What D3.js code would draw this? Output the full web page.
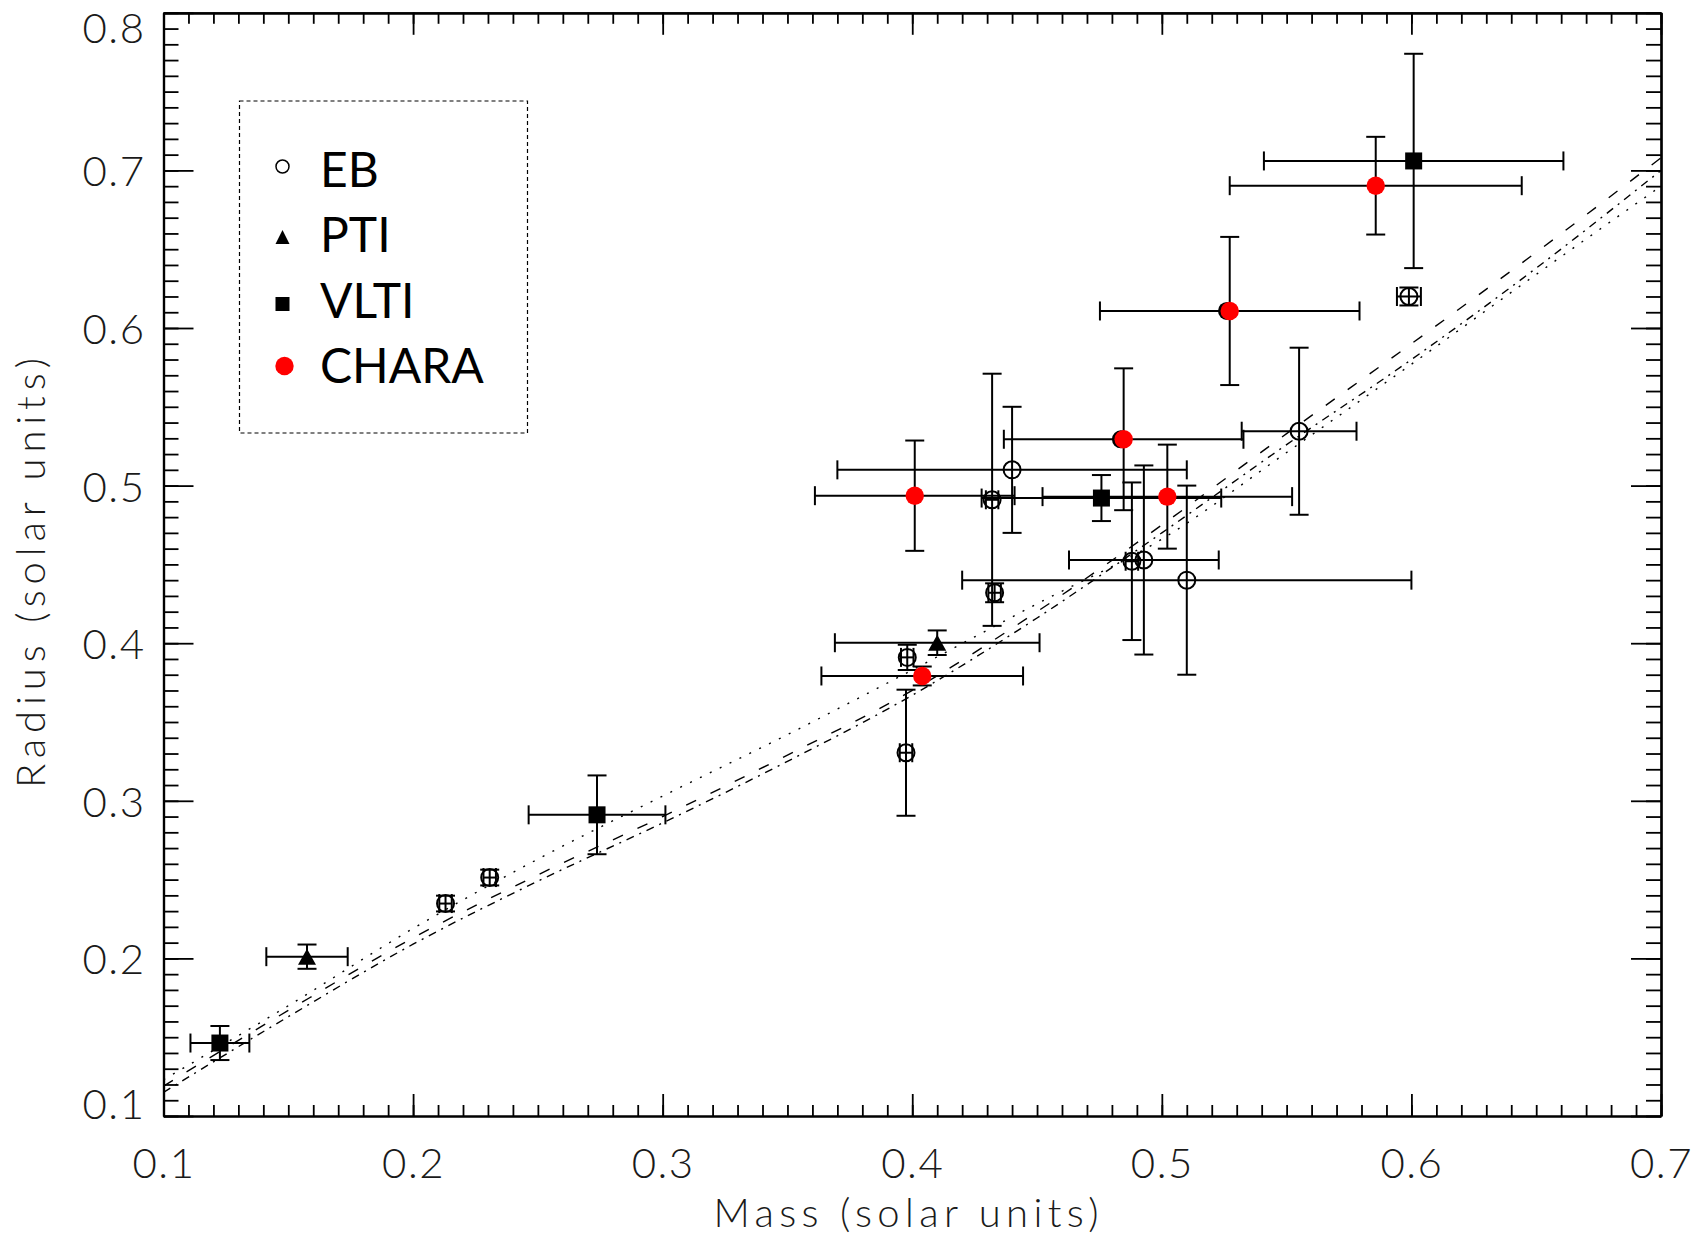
<!DOCTYPE html>
<html>
<head>
<meta charset="utf-8">
<script src="https://cdn.jsdelivr.net/npm/d3@7"></script>
<style>
  html, body { margin: 0; padding: 0; background: #fff; }
  svg { display: block; }
</style>
</head>
<body>
<svg id="chart" width="1699" height="1241"></svg>
<script>
// ---- Eclipsing binaries (open circles) ----
const ebMass      = [0.440, 0.432, 0.433, 0.398, 0.3975, 0.4928, 0.488, 0.510, 0.555, 0.599, 0.213, 0.2307];
const ebRadius    = [0.510, 0.491, 0.432, 0.391, 0.3305, 0.4528, 0.452, 0.440, 0.5345, 0.620, 0.2348, 0.2513];
const ebMassErr   = [0.070, 0.0025, 0.0025, 0.0025, 0.0025, 0.030, 0.0025, 0.090, 0.023, 0.0048, 0.0025, 0.0025];
const ebRadiusErr = [0.040, 0.080, 0.006, 0.008, 0.040, 0.060, 0.050, 0.060, 0.053, 0.0057, 0.005, 0.005];

// ---- PTI interferometry (filled triangles) ----
const ptiMass      = [0.410, 0.1575];
const ptiRadius    = [0.4003, 0.2011];
const ptiMassErr   = [0.041, 0.0163];
const ptiRadiusErr = [0.0078, 0.0077];

// ---- VLTI interferometry (filled squares) ----
const vltiMass      = [0.1226, 0.2737, 0.4758, 0.6009];
const vltiRadius    = [0.1463, 0.2911, 0.4921, 0.7060];
const vltiMassErr   = [0.0118, 0.0274, 0.048, 0.060];
const vltiRadiusErr = [0.0108, 0.025, 0.0146, 0.068];

// ---- CHARA interferometry (red dots) ----
const charaMass      = [0.401, 0.404, 0.4847, 0.5022, 0.5272, 0.5857];
const charaRadius    = [0.4936, 0.3792, 0.5294, 0.4930, 0.6108, 0.6903];
const charaMassErr   = [0.040, 0.0404, 0.048, 0.050, 0.052, 0.0585];
const charaRadiusErr = [0.035, 0.006, 0.045, 0.033, 0.047, 0.031];

// black points lying just under two of the CHARA dots
const underMass   = [0.4836, 0.5261];
const underRadius = [0.5294, 0.6108];

// ---- model mass-radius relations ----
const modelMass      = [0.10, 0.15, 0.20, 0.25, 0.30, 0.35, 0.40, 0.45, 0.50, 0.55, 0.60, 0.65, 0.70];
const modelDotted    = [0.123, 0.170, 0.219, 0.263, 0.303, 0.342, 0.383, 0.425, 0.466, 0.521, 0.577, 0.634, 0.690];
const modelDashed    = [0.119, 0.167, 0.213, 0.253, 0.290, 0.329, 0.370, 0.420, 0.475, 0.533, 0.590, 0.648, 0.708];
const modelDashDot   = [0.115, 0.163, 0.209, 0.249, 0.286, 0.325, 0.367, 0.416, 0.470, 0.526, 0.580, 0.638, 0.700];

// ---- axes and legend text ----
const xTickLabels = ["0.1", "0.2", "0.3", "0.4", "0.5", "0.6", "0.7"];
const yTickLabels = ["0.1", "0.2", "0.3", "0.4", "0.5", "0.6", "0.7", "0.8"];
const xTitle = "Mass (solar units)";
const yTitle = "Radius (solar units)";
const legendLabels = ["EB", "PTI", "VLTI", "CHARA"];

// ------------------------------------------------------------------
const svg = d3.select("#chart");
const tickFont = "Lato, Roboto, 'DejaVu Sans', sans-serif";
const legendFont = "Lato, 'Noto Sans', 'DejaVu Sans', sans-serif";

const x = d3.scaleLinear().domain([0.1, 0.7]).range([163.5, 1661]);
const y = d3.scaleLinear().domain([0.1, 0.8]).range([1116, 12.8]);
const [x0, x1] = x.range();
const [yb, yt] = y.range();

svg.append("rect").attr("width", 1699).attr("height", 1241).attr("fill", "#fff");

// clip for model curves
svg.append("clipPath").attr("id", "plot-clip")
  .append("rect").attr("x", x0).attr("y", yt).attr("width", x1 - x0).attr("height", yb - yt);

// ---- model curves ----
const line = d3.line().curve(d3.curveMonotoneX)
  .x(d => x(d[0])).y(d => y(d[1]));
const models = [
  { values: modelDotted,  dash: "2,9" },
  { values: modelDashed,  dash: "11,16" },
  { values: modelDashDot, dash: "8,6,2,6" }
];
const curveG = svg.append("g").attr("clip-path", "url(#plot-clip)");
models.forEach(m => {
  curveG.append("path")
    .datum(modelMass.map((mm, i) => [mm, m.values[i]]))
    .attr("d", line)
    .attr("fill", "none")
    .attr("stroke", "#000")
    .attr("stroke-width", 1.4)
    .attr("stroke-dasharray", m.dash);
});

// ---- helpers ----
function zip(ms, rs, dms, drs) {
  return ms.map((m, i) => ({ m, r: rs[i], dm: dms ? dms[i] : 0, dr: drs ? drs[i] : 0 }));
}
const eb = zip(ebMass, ebRadius, ebMassErr, ebRadiusErr);
const pti = zip(ptiMass, ptiRadius, ptiMassErr, ptiRadiusErr);
const vlti = zip(vltiMass, vltiRadius, vltiMassErr, vltiRadiusErr);
const chara = zip(charaMass, charaRadius, charaMassErr, charaRadiusErr);
const under = zip(underMass, underRadius);

const CAP = 9.5;
const errG = svg.append("g").attr("stroke", "#000").attr("stroke-width", 2).attr("fill", "none");
function errorBars(data) {
  data.forEach(d => {
    const cx = x(d.m), cy = y(d.r);
    const xl = x(d.m - d.dm), xr = x(d.m + d.dm);
    const yl = y(d.r - d.dr), yh = y(d.r + d.dr);
    errG.append("line").attr("x1", xl).attr("x2", xr).attr("y1", cy).attr("y2", cy);
    errG.append("line").attr("x1", xl).attr("x2", xl).attr("y1", cy - CAP).attr("y2", cy + CAP);
    errG.append("line").attr("x1", xr).attr("x2", xr).attr("y1", cy - CAP).attr("y2", cy + CAP);
    errG.append("line").attr("x1", cx).attr("x2", cx).attr("y1", yl).attr("y2", yh);
    errG.append("line").attr("x1", cx - CAP).attr("x2", cx + CAP).attr("y1", yl).attr("y2", yl);
    errG.append("line").attr("x1", cx - CAP).attr("x2", cx + CAP).attr("y1", yh).attr("y2", yh);
  });
}
errorBars(eb);
errorBars(pti);
errorBars(vlti);
errorBars(chara);

// ---- markers ----
const markG = svg.append("g");
markG.selectAll("circle.eb").data(eb).join("circle")
  .attr("class", "eb")
  .attr("cx", d => x(d.m)).attr("cy", d => y(d.r)).attr("r", 8.5)
  .attr("fill", "none").attr("stroke", "#000").attr("stroke-width", 2);

const tri = (s, h) => `M0,${-h / 2}L${s / 2},${h / 2}L${-s / 2},${h / 2}Z`;
markG.selectAll("path.pti").data(pti).join("path")
  .attr("class", "pti")
  .attr("transform", d => `translate(${x(d.m)},${y(d.r)})`)
  .attr("d", tri(18, 16)).attr("fill", "#000");

markG.selectAll("rect.vlti").data(vlti).join("rect")
  .attr("class", "vlti")
  .attr("x", d => x(d.m) - 8.5).attr("y", d => y(d.r) - 8.5)
  .attr("width", 17).attr("height", 17).attr("fill", "#000");

markG.selectAll("circle.under").data(under).join("circle")
  .attr("class", "under")
  .attr("cx", d => x(d.m)).attr("cy", d => y(d.r)).attr("r", 9)
  .attr("fill", "#000");

markG.selectAll("circle.chara").data(chara).join("circle")
  .attr("class", "chara")
  .attr("cx", d => x(d.m)).attr("cy", d => y(d.r)).attr("r", 9.2)
  .attr("fill", "#ff0000");

// ---- axes ----
const xMajor = xTickLabels.map(Number);
const yMajor = yTickLabels.map(Number);
const xMinor = d3.range(0, 61).map(i => +(0.1 + i * 0.01).toFixed(2));
const yMinor = d3.range(0, 71).map(i => +(0.1 + i * 0.01).toFixed(2));

function styleAxis(g) {
  g.select(".domain").attr("stroke", "#000").attr("stroke-width", 2.2);
  g.selectAll(".tick line").attr("stroke", "#000").attr("stroke-width", 1.8);
}

// bottom
const gBottom = svg.append("g").attr("transform", `translate(0,${yb})`);
gBottom.append("g").call(d3.axisBottom(x).tickValues(xMinor).tickSize(-11).tickSizeOuter(0).tickFormat("")).call(styleAxis);
gBottom.append("g").call(d3.axisBottom(x).tickValues(xMajor).tickSize(-22).tickSizeOuter(0)
  .tickFormat((d, i) => xTickLabels[i])).call(styleAxis)
  .call(g => g.selectAll(".tick text")
    .attr("y", 62).attr("dy", null)
    .attr("font-family", tickFont).attr("font-weight", 300)
    .attr("font-size", 42).attr("fill", "#1a1a1a").attr("letter-spacing", 1.5));

// top
const gTop = svg.append("g").attr("transform", `translate(0,${yt})`);
gTop.append("g").call(d3.axisTop(x).tickValues(xMinor).tickSize(-11).tickSizeOuter(0).tickFormat("")).call(styleAxis);
gTop.append("g").call(d3.axisTop(x).tickValues(xMajor).tickSize(-22).tickSizeOuter(0).tickFormat("")).call(styleAxis);

// left
const gLeft = svg.append("g").attr("transform", `translate(${x0},0)`);
gLeft.append("g").call(d3.axisLeft(y).tickValues(yMinor).tickSize(-15).tickSizeOuter(0).tickFormat("")).call(styleAxis);
const yDom = y.domain();
gLeft.append("g").call(d3.axisLeft(y).tickValues(yMajor).tickSize(-30).tickSizeOuter(0)
  .tickFormat((d, i) => yTickLabels[i])).call(styleAxis)
  .call(g => g.selectAll(".tick text")
    .attr("x", -18).attr("dy", null)
    .attr("y", d => 15.5 + (d === yDom[0] ? -13 : d === yDom[1] ? 14 : 0))
    .attr("font-family", tickFont).attr("font-weight", 300)
    .attr("font-size", 42).attr("fill", "#1a1a1a").attr("letter-spacing", 1.5));

// right
const gRight = svg.append("g").attr("transform", `translate(${x1},0)`);
gRight.append("g").call(d3.axisRight(y).tickValues(yMinor).tickSize(-15).tickSizeOuter(0).tickFormat("")).call(styleAxis);
gRight.append("g").call(d3.axisRight(y).tickValues(yMajor).tickSize(-30).tickSizeOuter(0).tickFormat("")).call(styleAxis);

// ---- axis titles ----
svg.append("text")
  .attr("x", 906).attr("y", 1227)
  .attr("text-anchor", "middle")
  .attr("font-family", tickFont).attr("font-weight", 300)
  .attr("font-size", 40).attr("fill", "#1a1a1a")
  .attr("textLength", 385).attr("lengthAdjust", "spacing")
  .text(xTitle);

svg.append("text")
  .attr("transform", "translate(45,573) rotate(-90)")
  .attr("text-anchor", "middle")
  .attr("font-family", tickFont).attr("font-weight", 300)
  .attr("font-size", 40).attr("fill", "#1a1a1a")
  .attr("textLength", 430).attr("lengthAdjust", "spacing")
  .text(yTitle);

// ---- legend ----
const lg = svg.append("g");
lg.append("rect")
  .attr("x", 239.5).attr("y", 101).attr("width", 288).attr("height", 332)
  .attr("fill", "none").attr("stroke", "#000").attr("stroke-width", 1.2)
  .attr("stroke-dasharray", "4,3");

const rowY = [170, 237, 304, 366];
const symX = 282.5;
// EB
lg.append("circle").attr("cx", symX).attr("cy", rowY[0] - 3.5).attr("r", 6.5)
  .attr("fill", "none").attr("stroke", "#000").attr("stroke-width", 1.5);
// PTI
lg.append("path").attr("transform", `translate(${symX},${rowY[1]})`)
  .attr("d", tri(14, 14)).attr("fill", "#000");
// VLTI
lg.append("rect").attr("x", symX - 7).attr("y", rowY[2] - 7).attr("width", 14).attr("height", 14).attr("fill", "#000");
// CHARA
lg.append("circle").attr("cx", symX + 2).attr("cy", rowY[3]).attr("r", 9.2).attr("fill", "#ff0000");

const baselines = [187, 252, 318, 383];
lg.selectAll("text.lbl").data(legendLabels).join("text")
  .attr("class", "lbl")
  .attr("x", 320).attr("y", (d, i) => baselines[i])
  .attr("font-family", legendFont).attr("font-size", 48).attr("fill", "#000")
  .text(d => d);
</script>
</body>
</html>
